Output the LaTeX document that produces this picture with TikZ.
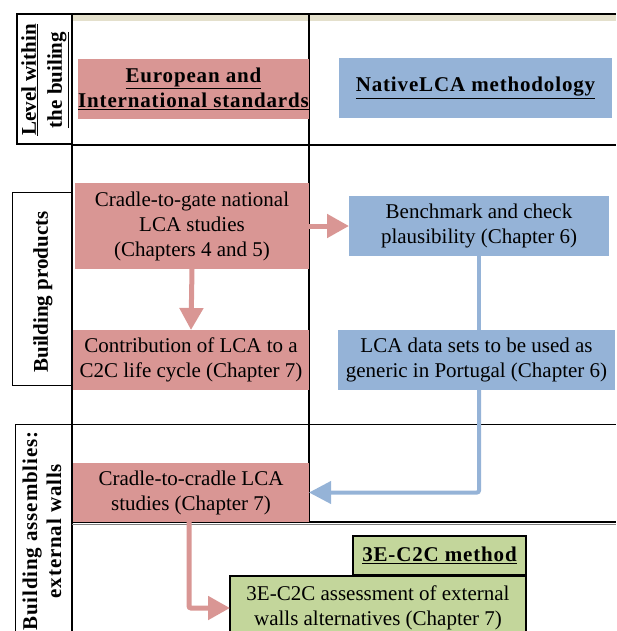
\documentclass[tikz,border=0pt]{standalone}
\usepackage{fontspec}
\setmainfont{Liberation Serif}
\newfontfamily\spacedbf[LetterSpace=4]{Liberation Serif}
\usetikzlibrary{arrows.meta,calc}
\definecolor{pinkc}{HTML}{D99694}
\definecolor{bluec}{HTML}{95B3D7}
\definecolor{greenc}{HTML}{C3D69B}
\definecolor{beigec}{HTML}{E4E0CC}
\tikzset{
  box/.style={inner sep=0pt, outer sep=0pt, align=center, font=\fontsize{21}{25}\selectfont},
  pinkbox/.style={box, fill=pinkc},
  bluebox/.style={box, fill=bluec},
  greenbox/.style={box, fill=greenc, draw=black, line width=1.3pt},
  head/.style={font=\fontsize{21}{25}\selectfont\spacedbf\bfseries},
  rowlabel/.style={rotate=90, align=center, inner sep=0pt, font=\fontsize{21}{26}\selectfont\bfseries},
  pinkarrow/.style={draw=pinkc, line width=5pt, -{Triangle[width=23pt,length=22pt]}},
  bluearrow/.style={draw=bluec, line width=4pt, -{Triangle[width=22pt,length=22pt]}},
  blueline/.style={draw=bluec, line width=4pt},
  grid/.style={draw=black, line width=1.2pt},
}
\begin{document}
\begin{tikzpicture}[x=1pt,y=-1pt]
\useasboundingbox (0,0) rectangle (616,631);
% frame
\fill[beigec] (72,15) rectangle (616,21);
\draw[grid, line width=1.8pt] (17,14) -- (616,14);
\draw[grid] (17,14) rectangle (72,144);
\draw[grid] (72,14) -- (72,640);
\draw[grid, line width=2.4pt] (309,14) -- (309,523);
\draw[grid, line width=1.8pt] (72,145) -- (616,145);
\draw[grid, line width=1pt] (15,424) -- (616,424);
\draw[grid, line width=1.2pt] (72,522) -- (616,522);
\draw[gray, line width=1pt] (72,524.5) -- (616,524.5);
\draw[grid, line width=1pt] (12,192) rectangle (71,385);
\draw[grid, line width=1pt] (15,424) -- (15,640);
\draw[grid, line width=1pt] (71,424) -- (71,640);
% row labels
\node[rowlabel] (lvl) at (45,80) {\underline{Level within}\\\underline{the builing}};
\node[rowlabel] (bp) at (43,292) {Building products};
\node[rowlabel, font=\fontsize{21}{24}\selectfont\spacedbf\bfseries] (ba) at (42,531) {Building assemblies:\\external walls};
% boxes
\node[pinkbox, minimum width=231pt, minimum height=60pt, head] (euro) at (193.5,89) {\underline{European and}\\\underline{International standards}};
\node[bluebox, minimum width=273pt, minimum height=60pt, head] (native) at (475.5,88) {\underline{NativeLCA methodology}};
\node[pinkbox, minimum width=234pt, minimum height=86pt] (c2g) at (192,226) {Cradle-to-gate national\\LCA studies\\(Chapters 4 and 5)};
\node[pinkbox, minimum width=236pt, minimum height=60pt] (contrib) at (191,360) {Contribution of LCA to a\\C2C life cycle (Chapter 7)};
\node[bluebox, minimum width=260pt, minimum height=60pt] (bench) at (479,226) {Benchmark and check\\plausibility (Chapter 6)};
\node[bluebox, minimum width=277pt, minimum height=60pt] (lcadata) at (476.5,360) {LCA data sets to be used as\\generic in Portugal (Chapter 6)};
\node[pinkbox, minimum width=236pt, minimum height=59pt] (c2c) at (191,492.5) {Cradle-to-cradle LCA\\studies (Chapter 7)};
\node[greenbox, minimum width=173pt, minimum height=39pt, head] (method) at (439.5,555.5) {\underline{3E-C2C method}};
\node[greenbox, minimum width=296pt, minimum height=64pt] (assess) at (378,608) {3E-C2C assessment of external\\walls alternatives (Chapter 7)};
% connectors
\draw[pinkarrow] (c2g.south) -- (contrib.north);
\draw[pinkarrow] (c2g.east) -- (bench.west);
\draw[blueline] (bench.south) -- (lcadata.north -| bench.south);
\draw[bluearrow, rounded corners=2pt] (lcadata.south -| bench.south) |- (c2c.east);
\draw[pinkarrow, rounded corners=2pt] ([xshift=-2pt]c2c.south) |- (assess.west);
\end{tikzpicture}
\end{document}
